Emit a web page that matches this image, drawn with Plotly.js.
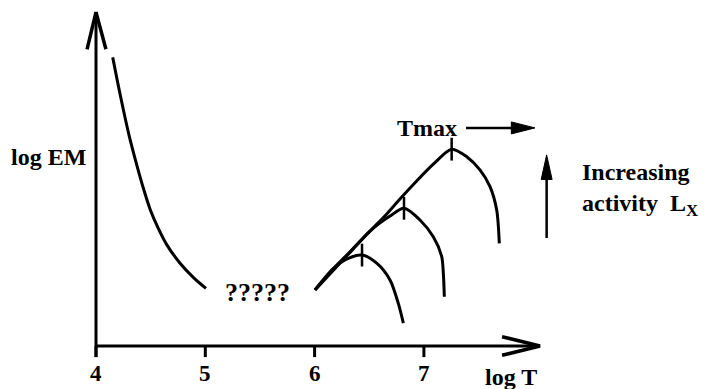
<!DOCTYPE html>
<html>
<head>
<meta charset="utf-8">
<script src="https://cdn.plot.ly/plotly-3.0.1.min.js"></script>
<style>html,body{margin:0;padding:0;background:#fff;}#chart{width:704px;height:389px;}</style>
</head>
<body>
<div id="chart"></div>
<script>
// ---- data (log T vs log EM, arbitrary units) ----
const coolT  = [4.153, 4.199, 4.249, 4.302, 4.366, 4.430, 4.494, 4.570, 4.647, 4.769, 4.890, 5.006];
const coolEM = [9.62, 8.77, 7.90, 7.03, 6.13, 5.30, 4.57, 3.92, 3.38, 2.76, 2.29, 1.92];

const hot1T  = [6.004, 6.168, 6.296, 6.434, 6.568, 6.690, 6.766, 6.812];
const hot1EM = [1.87, 2.57, 2.90, 3.03, 2.76, 2.20, 1.42, 0.76];

const hot2T  = [6.004, 6.324, 6.507, 6.690, 6.818, 6.964, 7.086, 7.163, 7.178, 7.187];
const hot2EM = [1.87, 3.12, 3.83, 4.33, 4.59, 4.20, 3.64, 2.98, 2.42, 1.64];

const hot3T  = [6.004, 6.171, 6.324, 6.477, 6.629, 6.781, 6.934, 7.086, 7.254, 7.392, 7.513, 7.605, 7.666, 7.690];
const hot3EM = [1.87, 2.57, 3.14, 3.72, 4.28, 4.90, 5.50, 6.06, 6.56, 6.31, 5.87, 5.31, 4.53, 3.42];

const peakT  = [6.434, 6.818, 7.254];
const peakEM = [3.03, 4.59, 6.56];

const tickVals   = [4, 5, 6, 7];
const tickLabels = ["4", "5", "6", "7"];

// ---- layout helpers ----
const X0 = 4, Y0 = 0, XEND = 8.062, YEND = 11.13;
const FONT = {family: "Liberation Serif, Times New Roman, serif", size: 24, color: "#000", weight: "bold"};
const LW = 3;

const curve = (x, y) => ({x, y, type: "scatter", mode: "lines",
  line: {color: "#000", width: LW, shape: "spline", smoothing: 0.8}, hoverinfo: "skip"});

// peak tick marks
const pkX = [], pkY = [];
peakT.forEach((t, i) => { pkX.push(t, t, null); pkY.push(peakEM[i] - 0.38, peakEM[i] + 0.38, null); });

// axis tick marks
const tkX = [], tkY = [];
tickVals.forEach(v => { tkX.push(v, v, null); tkY.push(Y0, -0.37, null); });

const traces = [
  curve(coolT, coolEM),
  curve(hot1T, hot1EM),
  curve(hot2T, hot2EM),
  curve(hot3T, hot3EM),
  {x: pkX, y: pkY, type: "scatter", mode: "lines", line: {color: "#000", width: 2.5}, hoverinfo: "skip"},
  {x: tkX, y: tkY, type: "scatter", mode: "lines", line: {color: "#000", width: LW}, hoverinfo: "skip"}
];

const shapes = [
  // x axis + open arrowhead
  {type: "line", x0: X0, y0: Y0, x1: XEND, y1: Y0, line: {color: "#000", width: LW}},
  {type: "path", path: `M 7.715 0.31 L ${XEND} 0 L 7.715 -0.31`, line: {color: "#000", width: 3.5}},
  // y axis + open arrowhead
  {type: "line", x0: X0, y0: -0.37, x1: X0, y1: YEND, line: {color: "#000", width: LW}},
  {type: "path", path: `M 3.918 9.89 L ${X0} ${YEND} L 4.091 9.89`, line: {color: "#000", width: 3.5}},
  // Tmax arrow
  {type: "line", x0: 7.385, y0: 7.27, x1: 7.85, y1: 7.27, line: {color: "#000", width: 2.5}},
  {type: "path", path: "M 7.80 7.47 L 8.016 7.27 L 7.80 7.07 Z", fillcolor: "#000", line: {color: "#000", width: 1}},
  // increasing activity arrow
  {type: "line", x0: 8.123, y0: 3.6, x1: 8.123, y1: 5.7, line: {color: "#000", width: 2.5}},
  {type: "path", path: "M 8.073 5.55 L 8.123 6.37 L 8.173 5.55 Z", fillcolor: "#000", line: {color: "#000", width: 1}}
];

const ann = (x, y, text, opts) => Object.assign({x, y, text, xref: "x", yref: "y", showarrow: false, font: FONT}, opts || {});

const annotations = tickVals.map((v, i) => ann(v, -0.93, tickLabels[i], {font: Object.assign({}, FONT, {size: 23})}));
annotations.push(
  ann(3.561, 6.3, "log EM"),
  ann(7.797, -1.04, "log T"),
  ann(5.473, 1.8, "?????", {font: Object.assign({}, FONT, {size: 26})}),
  ann(7.028, 7.27, "Tmax"),
  ann(8.428, 5.8, "Increasing", {xanchor: "left"}),
  ann(8.428, 4.7, "activity  L<sub>X</sub>", {xanchor: "left"})
);

const layout = {
  width: 704, height: 389,
  margin: {l: 0, r: 0, t: 0, b: 0},
  paper_bgcolor: "#fff", plot_bgcolor: "#fff",
  showlegend: false,
  xaxis: {range: [3.1217, 9.5627], visible: false, fixedrange: true},
  yaxis: {range: [-1.433, 11.533], visible: false, fixedrange: true},
  shapes, annotations,
  hovermode: false
};

Plotly.newPlot("chart", traces, layout, {staticPlot: true, displayModeBar: false});
</script>
</body>
</html>
